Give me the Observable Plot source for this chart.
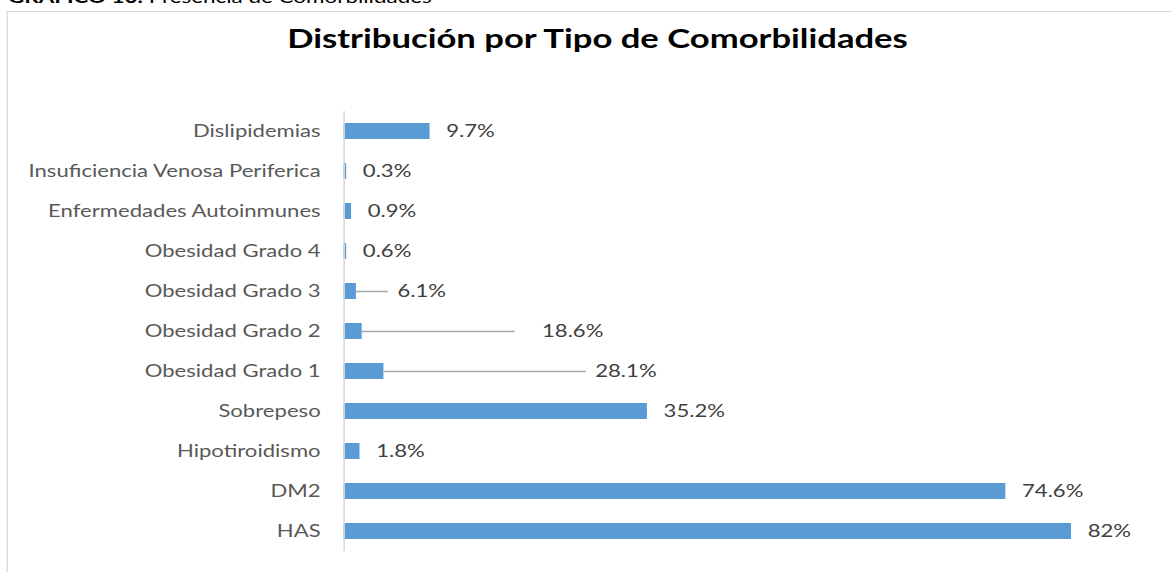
<!DOCTYPE html>
<html>
<head>
<meta charset="utf-8">
<script src="https://cdn.jsdelivr.net/npm/d3@7"></script>
<script src="https://cdn.jsdelivr.net/npm/@observablehq/plot@0.6"></script>
<style>
  html, body { margin: 0; padding: 0; background: #fff; overflow: hidden; width: 1172px; height: 572px; }
  #stage { position: absolute; left: 0; top: 0; height: 572px; transform-origin: 0 0; font-family: Lato, sans-serif; }
  #caption { position: absolute; white-space: nowrap; line-height: 1; color: #000; }
  #caption b { font-weight: 700; }
  #frame { position: absolute; border-left: 2px solid #d9d9d9; border-top: 1.5px solid #d9d9d9; }
  #title { position: absolute; white-space: nowrap; line-height: 1; font-weight: 700; color: #000; transform: translateX(-50%); }
  #chart { position: absolute; left: 0; top: 0; }
</style>
</head>
<body>
<div id="stage">
  <div id="caption"><b>GRÁFICO 10.</b> Presencia de Comorbilidades</div>
  <div id="frame"></div>
  <div id="title">Distribución por Tipo de Comorbilidades</div>
  <div id="chart"></div>
</div>
<script>
// ---- data ----
const categories = [
  "Dislipidemias",
  "Insuficiencia Venosa Periferica",
  "Enfermedades Autoinmunes",
  "Obesidad Grado 4",
  "Obesidad Grado 3",
  "Obesidad Grado 2",
  "Obesidad Grado 1",
  "Sobrepeso",
  "Hipotiroidismo",
  "DM2",
  "HAS"
];
// bar lengths (%) as drawn
const barValues = [9.7, 0.3, 0.85, 0.3, 1.4, 2.05, 4.5, 34.2, 1.8, 74.6, 82];
// data labels as printed
const labelTexts = ["9.7%", "0.3%", "0.9%", "0.6%", "6.1%", "18.6%", "28.1%", "35.2%", "1.8%", "74.6%", "82%"];
// labels that were dragged away from their bar: value where the label sits, and where its leader line ends
const labelMovedTo = [null, null, null, null, 6.0, 22.3, 28.3, null, null, null, null];
const leaderEnd    = [null, null, null, null, 5.0, 19.3, 27.3, null, null, null, null];

const FONT = 'Lato, sans-serif';
const LABEL_SIZE = 16.8;

// The reference is horizontally stretched; measure the font to find that stretch.
function measure(text, size, weight) {
  const svg = d3.select("body").append("svg").attr("width", 10).attr("height", 10);
  const t = svg.append("text").attr("font-family", FONT).attr("font-size", size)
    .attr("font-weight", weight || 400).text(text);
  const w = t.node().getComputedTextLength();
  svg.remove();
  return w;
}
const s = 292 / measure("Insuficiencia Venosa Periferica", LABEL_SIZE);
const W = 1172 / s;
const stage = document.getElementById("stage");
stage.style.width = W + "px";
stage.style.transform = `scaleX(${s})`;

// caption, frame, title
const capSize = Math.min(22, 432 / (s * measure("GRÁFICO 10. Presencia de Comorbilidades", 1, 400) * 1.02));
const cap = document.getElementById("caption");
cap.style.fontSize = capSize + "px";
cap.style.left = (8 / s) + "px";
cap.style.top = (4 - 0.92 * capSize) + "px";

const frame = document.getElementById("frame");
frame.style.left = (6 / s) + "px";
frame.style.top = "11px";
frame.style.width = (W + 20) + "px";
frame.style.height = "600px";
frame.style.borderLeftWidth = (2 / s) + "px";

const titleText = "Distribución por Tipo de Comorbilidades";
const titleSize = 621 / (s * measure(titleText, 1, 700));
const title = document.getElementById("title");
title.style.fontSize = titleSize + "px";
title.style.left = (597.5 / s) + "px";
title.style.top = (49.5 - 0.92 * titleSize) + "px";

// chart
const data = categories.map((c, i) => ({
  category: c,
  value: barValues[i],
  label: labelTexts[i],
  movedTo: labelMovedTo[i],
  leader: leaderEnd[i]
}));
const axisX = 343.5;           // screen x of the value axis
const pxPerUnit = 8.872;       // screen px per percentage point
const xMax = 90;

const chart = Plot.plot({
  width: W,
  height: 572,
  marginTop: 111,
  marginBottom: 21,
  marginLeft: axisX / s,
  marginRight: (1172 - (axisX + xMax * pxPerUnit)) / s,
  x: { domain: [0, xMax], axis: null },
  y: { domain: categories, paddingInner: 0.6, paddingOuter: 0.3, axis: null },
  style: { fontFamily: FONT, fontSize: LABEL_SIZE + "px", background: "transparent", overflow: "visible" },
  marks: [
    Plot.barX(data, { x: "value", y: "category", fill: "#5b9bd5" }),
    Plot.ruleX([0], { stroke: "#d9d9d9", strokeWidth: 1.2 }),
    Plot.axisY({ tickSize: 0, tickPadding: (axisX - 320) / s, fill: "#595959", fontSize: LABEL_SIZE, label: null }),
    Plot.ruleY(data.filter(d => d.leader != null), { y: "category", x1: "value", x2: "leader", stroke: "#a6a6a6", strokeWidth: 1.3 }),
    Plot.text(data.filter(d => d.movedTo == null), { x: "value", y: "category", text: "label", textAnchor: "start", dx: 16 / s, fill: "#404040", fontSize: LABEL_SIZE }),
    Plot.text(data.filter(d => d.movedTo != null), { x: "movedTo", y: "category", text: "label", textAnchor: "start", fill: "#404040", fontSize: LABEL_SIZE })
  ]
});
document.getElementById("chart").appendChild(chart);
</script>
</body>
</html>
